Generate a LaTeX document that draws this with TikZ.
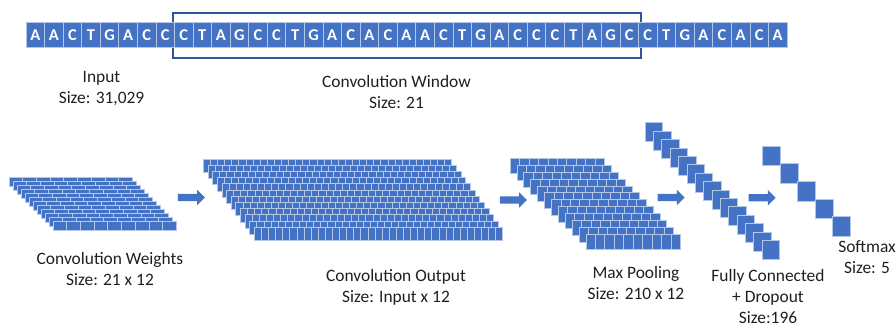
\documentclass[tikz,border=0pt]{standalone}
\usepackage{fontspec}
\setmainfont{Carlito}
\usetikzlibrary{shapes.arrows}

\definecolor{cellblue}{HTML}{4472C4}
\definecolor{celledge}{HTML}{B4C7E7}
\definecolor{framedark}{HTML}{2F5597}
\definecolor{labelink}{HTML}{1F1F1F}

\tikzset{
  cell/.style={fill=cellblue, draw=celledge, line width=0.7pt},
  seqbox/.style={cell, minimum width=18.56pt, minimum height=25.6pt, inner sep=0pt,
    text=white, font=\fontsize{16.5}{18}\selectfont\bfseries},
  % anchored on the baseline of the last line
  lbl/.style={align=center, inner sep=0pt, anchor=base, text=labelink,
    font=\fontsize{17.4}{21}\selectfont},
  blockarrow/.style={single arrow, fill=cellblue, draw=none, inner sep=3.5pt,
    minimum height=27pt, single arrow head extend=4pt, single arrow head indent=0pt},
}

% a stack of layers, each a row of cells, drawn from back to front
% #1,#2: first layer's top-left corner; #3,#4: shift per layer;
% #5: layers; #6: cells per row; #7,#8: cell width and height
\newcommand\layerstack[8]{%
  \foreach \L in {1,...,#5}{%
    \foreach \c in {1,...,#6}{%
      \draw[cell] ({#1+#3*(\L-1)+#7*(\c-1)},{#2+#4*(\L-1)}) rectangle ++(#7,#8);
    }%
  }%
}

\begin{document}
\begin{tikzpicture}[x=1pt,y=-1pt]
\useasboundingbox (0,0) rectangle (896,326);

% convolution window frame, behind the sequence
\draw[framedark, line width=2.3pt] (173,13) rectangle (641,58);

% input sequence
\foreach \ch [count=\i from 0] in {A,A,C,T,G,A,C,C,C,T,A,G,C,C,T,G,A,C,A,C,A,A,C,T,G,A,C,C,C,T,A,G,C,C,T,G,A,C,A,C,A}
  \node[seqbox] (s\i) at ({35.28+18.56*\i},34.8) {\ch};

\node[lbl] (inputlbl) at (101.5,103.3) {Input\\Size: 31,029};
\node[lbl] (windowlbl) at (396.5,109) {Convolution Window\\Size: 21};

% convolution weights
\layerstack{9}{177.7}{4}{4}{12}{9}{13.7}{9}
% convolution output
\layerstack{203.3}{159}{4.64}{6.2}{12}{35}{7.1}{13.4}
% max pooling
\layerstack{510}{158.3}{6.9}{6.9}{12}{10}{9.47}{15.3}
% fully connected
\layerstack{645}{122.7}{8.37}{8.4}{15}{1}{17.5}{19}
% softmax
\layerstack{762.7}{146}{17.5}{17.7}{5}{1}{18}{19.5}

% flow arrows
\node[blockarrow] (arr1) at (189.5,197.5) {};
\node[blockarrow] (arr2) at (511.5,200) {};
\node[blockarrow] (arr3) at (669.2,197.5) {};
\node[blockarrow] (arr4) at (760.3,197.7) {};

\node[lbl] (weightslbl) at (110,285) {Convolution Weights\\Size: 21 x 12};
\node[lbl] (outputlbl) at (396,302.5) {Convolution Output\\Size: Input x 12};
\node[lbl] (poollbl) at (636,299.3) {Max Pooling\\Size: 210 x 12};
\node[lbl] (fclbl) at (768,323.3) {Fully Connected\\+ Dropout\\Size:196};
\node[lbl] (softmaxlbl) at (867,273.3) {Softmax\\Size: 5};
\end{tikzpicture}
\end{document}
